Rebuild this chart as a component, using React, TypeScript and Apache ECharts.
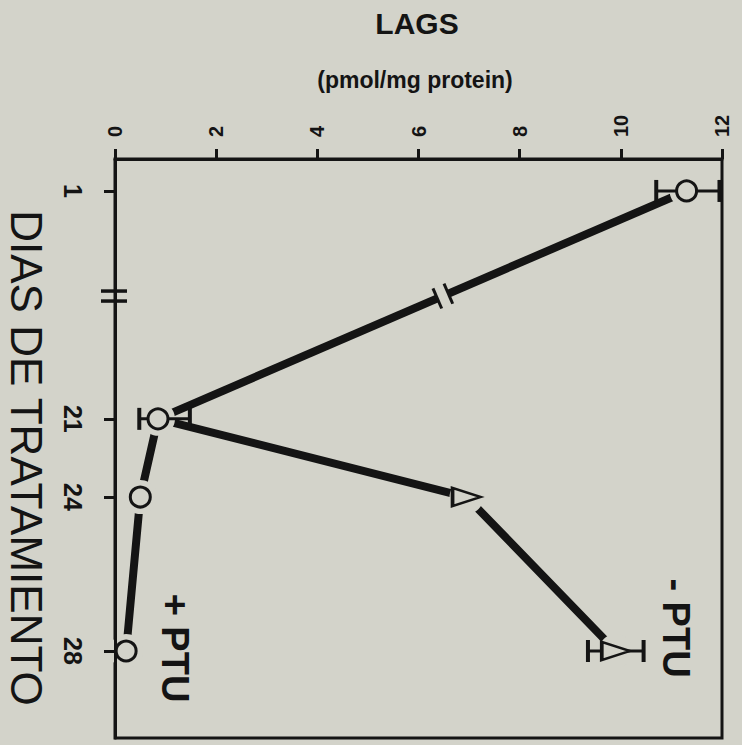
import React, { useEffect, useRef } from "react";
import * as echarts from "echarts";

// ---- data ----
const dayLabels = [1, 21, 24, 28];
// axis scale of the original figure (non-uniform spacing of the day ticks)
const dayAxisPos = [1, 6.92, 8.95, 12.95];
const axisBreakPos = 3.73;

const commonDays = [1, 21];
const commonValues = [11.3, 0.85];
const minusDays = [21, 24, 28];
const minusValues = [0.85, 6.95, 9.9];
const plusDays = [21, 24, 28];
const plusValues = [0.85, 0.5, 0.22];

const errDays = [1, 21, 28];
const errLow = [10.7, 0.48, 9.35];
const errHigh = [11.95, 1.48, 10.45];

const circleDays = [1, 21, 24, 28];
const circleValues = [11.3, 0.85, 0.5, 0.22];
const triangleDays = [24, 28];
const triangleValues = [6.95, 9.9];

const INK = "#141414";
const BG = "#d3d3ca";
const FONT = "'Liberation Sans', Arial, Helvetica, sans-serif";

const pos = (d: number) => dayAxisPos[dayLabels.indexOf(d)];
const pts = (days: number[], vals: number[]) => days.map((d, i) => [vals[i], pos(d)]);

export default function App() {
  const ref = useRef<HTMLDivElement>(null);
  useEffect(() => {
    document.body.style.margin = "0";
    document.body.style.background = BG;
    const chart = echarts.init(ref.current!, null, { renderer: "svg" });
    const lineStyle = { color: INK, width: 8 };
    const option: any = {
      animation: false,
      backgroundColor: BG,
      grid: {
        left: 115,
        right: 20,
        top: 159,
        bottom: 7,
        show: true,
        borderColor: INK,
        borderWidth: 3,
        backgroundColor: "transparent",
      },
      xAxis: {
        type: "value",
        position: "top",
        min: 0,
        max: 12,
        interval: 2,
        z: 10,
        axisLine: { show: true, lineStyle: { color: INK, width: 3 } },
        axisTick: { show: true, length: 10, lineStyle: { color: INK, width: 3 } },
        axisLabel: {
          rotate: -90,
          margin: 22,
          color: INK,
          fontSize: 20,
          fontWeight: "bold",
          fontFamily: FONT,
        },
        splitLine: { show: false },
      },
      yAxis: {
        type: "value",
        inverse: true,
        min: 0.17,
        max: 15.21,
        z: 10,
        axisLine: { show: true, lineStyle: { color: INK, width: 3 } },
        axisTick: {
          show: true,
          customValues: dayAxisPos,
          length: 11,
          lineStyle: { color: INK, width: 3 },
        },
        axisLabel: {
          customValues: dayAxisPos,
          rotate: -90,
          margin: 30,
          color: INK,
          fontSize: 25,
          fontWeight: "bold",
          fontFamily: FONT,
          formatter: (v: number) => {
            const i = dayAxisPos.findIndex((p) => Math.abs(p - v) < 1e-6);
            return i >= 0 ? String(dayLabels[i]) : "";
          },
        },
        splitLine: { show: false },
      },
      graphic: [
        {
          type: "text",
          x: 417,
          y: 23,
          style: { text: "LAGS", fontSize: 30, fontWeight: "bold", fontFamily: FONT, fill: INK, align: "center", verticalAlign: "middle" },
        },
        {
          type: "text",
          x: 415,
          y: 80,
          style: { text: "(pmol/mg protein)", fontSize: 23, fontWeight: "bold", fontFamily: FONT, fill: INK, align: "center", verticalAlign: "middle" },
        },
        {
          type: "text",
          x: 26,
          y: 458,
          rotation: -Math.PI / 2,
          style: { text: "DIAS DE TRATAMIENTO", fontSize: 44, fontFamily: FONT, fill: INK, align: "center", verticalAlign: "middle" },
        },
        {
          type: "text",
          x: 676,
          y: 628,
          rotation: -Math.PI / 2,
          style: { text: "- PTU", fontSize: 38, fontWeight: "bold", fontFamily: FONT, fill: INK, align: "center", verticalAlign: "middle" },
        },
        {
          type: "text",
          x: 175,
          y: 648,
          rotation: -Math.PI / 2,
          style: { text: "+ PTU", fontSize: 38, fontWeight: "bold", fontFamily: FONT, fill: INK, align: "center", verticalAlign: "middle" },
        },
      ],
      series: [
        { name: "common", type: "line", data: pts(commonDays, commonValues), showSymbol: false, lineStyle, z: 2, silent: true },
        { name: "- PTU", type: "line", data: pts(minusDays, minusValues), showSymbol: false, lineStyle, z: 2, silent: true },
        { name: "+ PTU", type: "line", data: pts(plusDays, plusValues), showSymbol: false, lineStyle, z: 2, silent: true },
        {
          name: "halo",
          type: "scatter",
          data: [...pts(circleDays, circleValues), ...pts(triangleDays, triangleValues)],
          symbol: "circle",
          symbolSize: 34,
          itemStyle: { color: BG, opacity: 1 },
          z: 3,
          silent: true,
        },
        {
          name: "breaks",
          type: "custom",
          z: 4,
          silent: true,
          data: [[commonValues[0], pos(commonDays[0]), commonValues[1], pos(commonDays[1]), axisBreakPos]],
          encode: { x: [0, 2], y: [1, 3] },
          renderItem: (params: any, api: any) => {
            const c1 = api.coord([api.value(0), api.value(1)]);
            const c2 = api.coord([api.value(2), api.value(3)]);
            const pb = api.value(4);
            const t = (pb - api.value(1)) / (api.value(3) - api.value(1));
            const px = c1[0] + (c2[0] - c1[0]) * t;
            const py = c1[1] + (c2[1] - c1[1]) * t;
            let ux = c2[0] - c1[0];
            let uy = c2[1] - c1[1];
            const len = Math.hypot(ux, uy);
            ux /= len;
            uy /= len;
            const nx = -uy;
            const ny = ux;
            const g = 6;
            const s = 11;
            const ax = api.coord([0, pb]);
            const stroke = { stroke: INK, lineWidth: 3 };
            return {
              type: "group",
              children: [
                { type: "line", shape: { x1: px - ux * g, y1: py - uy * g, x2: px + ux * g, y2: py + uy * g }, style: { stroke: BG, lineWidth: 14 } },
                { type: "line", shape: { x1: px - ux * g - nx * s, y1: py - uy * g - ny * s, x2: px - ux * g + nx * s, y2: py - uy * g + ny * s }, style: stroke },
                { type: "line", shape: { x1: px + ux * g - nx * s, y1: py + uy * g - ny * s, x2: px + ux * g + nx * s, y2: py + uy * g + ny * s }, style: stroke },
                { type: "line", shape: { x1: ax[0] - 14, y1: ax[1] - 5, x2: ax[0] + 12, y2: ax[1] - 5 }, style: { stroke: INK, lineWidth: 3.5 } },
                { type: "line", shape: { x1: ax[0] - 14, y1: ax[1] + 5, x2: ax[0] + 12, y2: ax[1] + 5 }, style: { stroke: INK, lineWidth: 3.5 } },
              ],
            };
          },
        },
        {
          name: "error",
          type: "custom",
          z: 5,
          silent: true,
          data: errDays.map((d, i) => [errLow[i], errHigh[i], pos(d)]),
          encode: { x: [0, 1], y: 2 },
          renderItem: (params: any, api: any) => {
            const y = api.value(2);
            const a = api.coord([api.value(0), y]);
            const b = api.coord([api.value(1), y]);
            const h = 11;
            return {
              type: "group",
              children: [
                { type: "line", shape: { x1: a[0], y1: a[1], x2: b[0], y2: b[1] }, style: { stroke: INK, lineWidth: 3 } },
                { type: "line", shape: { x1: a[0], y1: a[1] - h, x2: a[0], y2: a[1] + h }, style: { stroke: INK, lineWidth: 4 } },
                { type: "line", shape: { x1: b[0], y1: b[1] - h, x2: b[0], y2: b[1] + h }, style: { stroke: INK, lineWidth: 4 } },
              ],
            };
          },
        },
        {
          name: "circles",
          type: "scatter",
          data: pts(circleDays, circleValues),
          symbol: "circle",
          symbolSize: 20,
          itemStyle: { color: BG, borderColor: INK, borderWidth: 3, opacity: 1 },
          z: 6,
          silent: true,
        },
        {
          name: "triangles",
          type: "scatter",
          data: pts(triangleDays, triangleValues),
          symbol: "triangle",
          symbolRotate: -90,
          symbolSize: [18, 28],
          itemStyle: { color: BG, borderColor: INK, borderWidth: 3, opacity: 1 },
          z: 6,
          silent: true,
        },
      ],
    };
    chart.setOption(option);
    return () => chart.dispose();
  }, []);
  return <div ref={ref} style={{ width: 742, height: 745, background: BG }} />;
}
